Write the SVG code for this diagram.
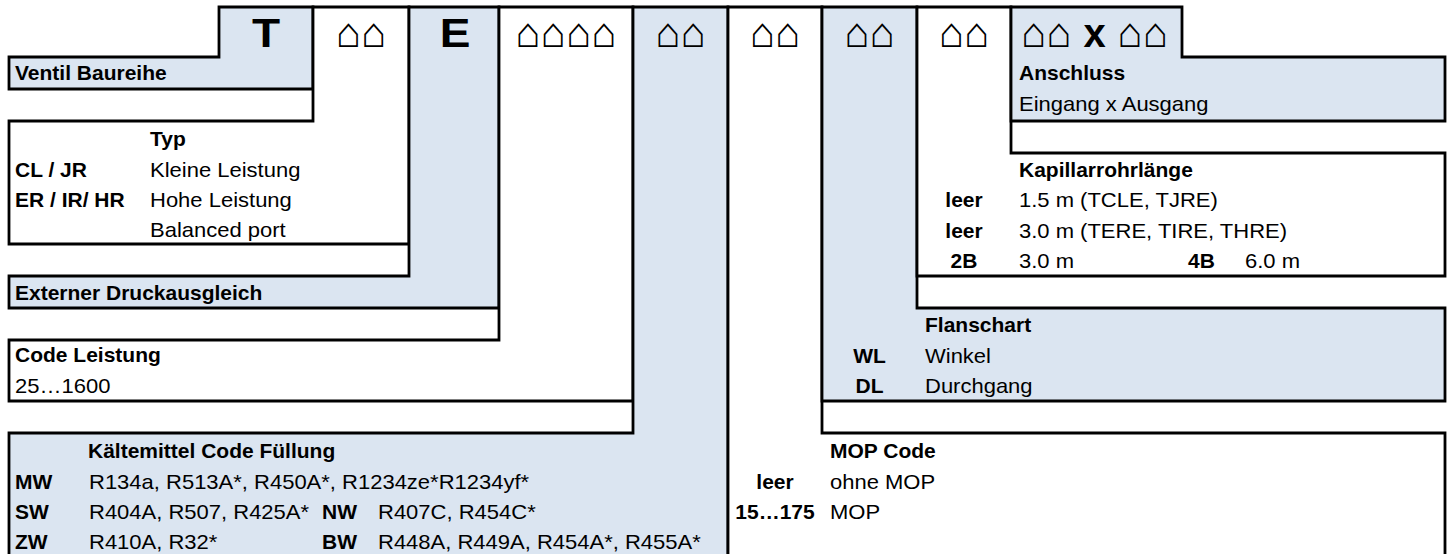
<svg xmlns="http://www.w3.org/2000/svg" width="1452" height="554" viewBox="0 0 1452 554">
<style>
.box{stroke:#000;stroke-width:2.8;stroke-linejoin:miter}
.bl{fill:#dbe5f1}
.wh{fill:#fff}
text{font-family:"Liberation Sans",Arial,sans-serif;font-size:20px;fill:#000}
.b{font-weight:bold}
.hd{font-size:40px}
.hs{font-size:42px}
.c{text-anchor:middle}
</style>
<rect width="1452" height="554" fill="#fff"/>
<g id="connectors"></g>
<g id="col-T">
<polygon class="box bl" points="219,7 313,7 313,89 9,89 9,57 219,57"/>
<text class="hd b c" transform="translate(266,47) scale(1.15,1)">T</text>
<text class="b" transform="translate(15,80) scale(1.05,1)">Ventil Baureihe</text>
</g>
<g id="col-Typ">
<polygon class="box wh" points="313,7 409,7 409,244 9,244 9,121 313,121"/>
<text class="hs c" x="361" y="47">⌂⌂</text>
<text class="b" transform="translate(150,146) scale(1.05,1)">Typ</text>
<text class="b" transform="translate(15,177) scale(1.05,1)">CL / JR</text>
<text transform="translate(150,177) scale(1.1,1)">Kleine Leistung</text>
<text class="b" transform="translate(15,207) scale(1.05,1)">ER / IR/ HR</text>
<text transform="translate(150,207) scale(1.1,1)">Hohe Leistung</text>
<text transform="translate(150,237) scale(1.1,1)">Balanced port</text>
</g>
<g id="col-E">
<polygon class="box bl" points="409,7 499,7 499,308 9,308 9,276 409,276"/>
<text class="hd b c" transform="translate(455,47) scale(1.15,1)">E</text>
<text class="b" transform="translate(15,300) scale(1.05,1)">Externer Druckausgleich</text>
</g>
<g id="col-Leistung">
<polygon class="box wh" points="499,7 633,7 633,401 9,401 9,340 499,340"/>
<text class="hs c" x="566" y="47">⌂⌂⌂⌂</text>
<text class="b" transform="translate(15,362) scale(1.05,1)">Code Leistung</text>
<text transform="translate(15,393) scale(1.1,1)">25…1600</text>
</g>
<g id="col-Kaeltemittel">
<polygon class="box bl" points="633,7 728,7 728,570 9,570 9,433 633,433"/>
<text class="hs c" x="680.5" y="47">⌂⌂</text>
<text class="b" transform="translate(88,458) scale(1.05,1)">Kältemittel Code Füllung</text>
<text class="b" transform="translate(15,489) scale(1.05,1)">MW</text>
<text transform="translate(89,489) scale(1.1,1)">R134a, R513A*, R450A*, R1234ze*R1234yf*</text>
<text class="b" transform="translate(15,519) scale(1.05,1)">SW</text>
<text transform="translate(89,519) scale(1.1,1)">R404A, R507, R425A*</text>
<text class="b" transform="translate(322,519) scale(1.05,1)">NW</text>
<text transform="translate(378,519) scale(1.1,1)">R407C, R454C*</text>
<text class="b" transform="translate(15,549) scale(1.05,1)">ZW</text>
<text transform="translate(89,549) scale(1.1,1)">R410A, R32*</text>
<text class="b" transform="translate(322,549) scale(1.05,1)">BW</text>
<text transform="translate(378,549) scale(1.1,1)">R448A, R449A, R454A*, R455A*</text>
</g>
<g id="col-MOP">
<polygon class="box wh" points="728,7 822,7 822,433 1445,433 1445,570 728,570"/>
<text class="hs c" x="775" y="47">⌂⌂</text>
<text class="b" transform="translate(830,458) scale(1.05,1)">MOP Code</text>
<text class="b c" transform="translate(775,489) scale(1.05,1)">leer</text>
<text transform="translate(830,489) scale(1.1,1)">ohne MOP</text>
<text class="b c" transform="translate(775,519) scale(1.05,1)">15…175</text>
<text transform="translate(830,519) scale(1.1,1)">MOP</text>
</g>
<g id="col-Flanschart">
<polygon class="box bl" points="822,7 917,7 917,308 1445,308 1445,401 822,401"/>
<text class="hs c" x="869.5" y="47">⌂⌂</text>
<text class="b" transform="translate(925,332) scale(1.05,1)">Flanschart</text>
<text class="b c" transform="translate(869.5,363) scale(1.05,1)">WL</text>
<text transform="translate(925,363) scale(1.1,1)">Winkel</text>
<text class="b c" transform="translate(869.5,393) scale(1.05,1)">DL</text>
<text transform="translate(925,393) scale(1.1,1)">Durchgang</text>
</g>
<g id="col-Kapillar">
<polygon class="box wh" points="917,7 1011,7 1011,153 1445,153 1445,276 917,276"/>
<text class="hs c" x="964" y="47">⌂⌂</text>
<text class="b" transform="translate(1019,177) scale(1.05,1)">Kapillarrohrlänge</text>
<text class="b c" transform="translate(964,207) scale(1.05,1)">leer</text>
<text transform="translate(1019,207) scale(1.1,1)">1.5 m (TCLE, TJRE)</text>
<text class="b c" transform="translate(964,238) scale(1.05,1)">leer</text>
<text transform="translate(1019,238) scale(1.1,1)">3.0 m (TERE, TIRE, THRE)</text>
<text class="b c" transform="translate(964,268) scale(1.05,1)">2B</text>
<text transform="translate(1019,268) scale(1.1,1)">3.0 m</text>
<text class="b" transform="translate(1188,268) scale(1.05,1)">4B</text>
<text transform="translate(1245,268) scale(1.1,1)">6.0 m</text>
</g>
<g id="col-Anschluss">
<polygon class="box bl" points="1011,7 1182,7 1182,57 1445,57 1445,121 1011,121"/>
<text class="hs" x="1021" y="47">⌂⌂ <tspan class="hd b">x</tspan> ⌂⌂</text>
<text class="b" transform="translate(1019,80) scale(1.05,1)">Anschluss</text>
<text transform="translate(1019,111) scale(1.1,1)">Eingang x Ausgang</text>
</g>
</svg>
